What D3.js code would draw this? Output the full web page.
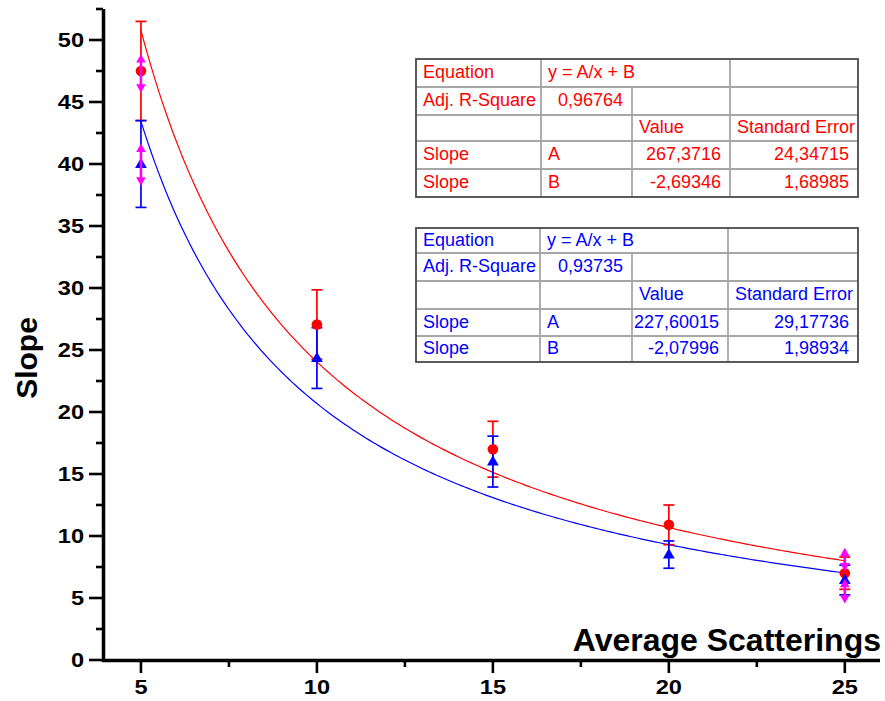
<!DOCTYPE html>
<html>
<head>
<meta charset="utf-8">
<script src="https://cdn.jsdelivr.net/npm/d3@7"></script>
<style>
  html, body { margin: 0; padding: 0; background: #ffffff; }
  svg { display: block; }
</style>
</head>
<body>
<svg id="chart" width="885" height="701"></svg>
<script>
// ---------------- DATA ----------------
const xValues = [5, 10, 15, 20, 25];

const redMean = [47.5, 27.05, 17.0, 10.9, 7.0];
const redErr  = [4.0, 2.8, 2.25, 1.6, 1.3];

const blueMean = [40.0, 24.35, 16.0, 8.5, 6.45];
const blueErr  = [3.5, 2.45, 2.05, 1.1, 1.2];

// magenta markers (up / down triangles joined by a line)
const magentaX    = [5, 5, 25, 25];
const magentaHigh = [48.4, 41.2, 8.6, 6.1];
const magentaLow  = [46.2, 38.7, 7.6, 5.0];

// fit parameters y = A/x + B
const redFit  = { A: 267.3716, B: -2.69346 };
const blueFit = { A: 227.60015, B: -2.07996 };

const yTicks = [0, 5, 10, 15, 20, 25, 30, 35, 40, 45, 50];
const yMinor = [2.5, 7.5, 12.5, 17.5, 22.5, 27.5, 32.5, 37.5, 42.5, 47.5, 52.5];
const xTicks = [5, 10, 15, 20, 25];
const xMinor = [7.5, 12.5, 17.5, 22.5];

const redTable = [
  ["Equation", "y = A/x + B", "", ""],
  ["Adj. R-Square", "0,96764", "", ""],
  ["", "", "Value", "Standard Error"],
  ["Slope", "A", "267,3716", "24,34715"],
  ["Slope", "B", "-2,69346", "1,68985"]
];
const blueTable = [
  ["Equation", "y = A/x + B", "", ""],
  ["Adj. R-Square", "0,93735", "", ""],
  ["", "", "Value", "Standard Error"],
  ["Slope", "A", "227,60015", "29,17736"],
  ["Slope", "B", "-2,07996", "1,98934"]
];

const xTitle = "Average Scatterings";
const yTitle = "Slope";

// ---------------- LAYOUT ----------------
const RED = "#ff0000", BLUE = "#0000ff", MAG = "#ff00ff";
const FONT = "'Liberation Sans', Arial, Helvetica, sans-serif";

const svg = d3.select("#chart");

const x = d3.scaleLinear().domain([3.95, 26]).range([104, 880]);
const y = d3.scaleLinear().domain([0, 52.5]).range([660, 9]);

// ---------- fit curves ----------
const line = d3.line().x(d => x(d[0])).y(d => y(d[1]));
function fitPts(p) {
  return d3.range(5, 25.001, 0.1).map(v => [v, p.A / v + p.B]);
}
svg.append("path").attr("d", line(fitPts(redFit)))
  .attr("fill", "none").attr("stroke", RED).attr("stroke-width", 1.2);
svg.append("path").attr("d", line(fitPts(blueFit)))
  .attr("fill", "none").attr("stroke", BLUE).attr("stroke-width", 1.2);

// ---------- error bars and markers ----------
function errorBars(means, errs, color) {
  const g = svg.append("g").attr("stroke", color).attr("stroke-width", 1.7);
  xValues.forEach((xv, i) => {
    const cx = x(xv), top = y(means[i] + errs[i]), bot = y(means[i] - errs[i]);
    g.append("line").attr("x1", cx).attr("x2", cx).attr("y1", top).attr("y2", bot);
    g.append("line").attr("x1", cx - 5.5).attr("x2", cx + 5.5).attr("y1", top).attr("y2", top);
    g.append("line").attr("x1", cx - 5.5).attr("x2", cx + 5.5).attr("y1", bot).attr("y2", bot);
  });
}
errorBars(redMean, redErr, RED);
errorBars(blueMean, blueErr, BLUE);

svg.append("g").selectAll("circle").data(xValues).join("circle")
  .attr("cx", d => x(d)).attr("cy", (d, i) => y(redMean[i])).attr("r", 5.3)
  .attr("fill", RED);

const tri = d3.symbol().type(d3.symbolTriangle).size(60);
svg.append("g").selectAll("path").data(xValues).join("path")
  .attr("d", tri)
  .attr("transform", (d, i) => `translate(${x(d)},${y(blueMean[i]) + 0.5})`)
  .attr("fill", BLUE);

// magenta
const mg = svg.append("g");
const smallTri = d3.symbol().type(d3.symbolTriangle).size(40);
magentaX.forEach((xv, i) => {
  mg.append("line").attr("x1", x(xv)).attr("x2", x(xv))
    .attr("y1", y(magentaHigh[i])).attr("y2", y(magentaLow[i]))
    .attr("stroke", MAG).attr("stroke-width", 2.6);
  mg.append("path").attr("d", smallTri).attr("fill", MAG)
    .attr("transform", `translate(${x(xv)},${y(magentaHigh[i])})`);
  mg.append("path").attr("d", smallTri).attr("fill", MAG)
    .attr("transform", `translate(${x(xv)},${y(magentaLow[i])}) rotate(180)`);
});

// ---------- axes ----------
const ax = svg.append("g").attr("stroke", "#000");
ax.append("line").attr("x1", 103.5).attr("x2", 103.5).attr("y1", 662).attr("y2", y(52.5))
  .attr("stroke-width", 3.5);
ax.append("line").attr("x1", 102).attr("x2", 880).attr("y1", 660.5).attr("y2", 660.5)
  .attr("stroke-width", 3.5);

yTicks.forEach(v => {
  ax.append("line").attr("x1", 89).attr("x2", 103).attr("y1", y(v)).attr("y2", y(v))
    .attr("stroke-width", 2.6);
});
yMinor.forEach(v => {
  ax.append("line").attr("x1", 96).attr("x2", 103).attr("y1", y(v)).attr("y2", y(v))
    .attr("stroke-width", 2.6);
});
xTicks.forEach(v => {
  ax.append("line").attr("x1", x(v)).attr("x2", x(v)).attr("y1", 661).attr("y2", 673)
    .attr("stroke-width", 2.6);
});
xMinor.forEach(v => {
  ax.append("line").attr("x1", x(v)).attr("x2", x(v)).attr("y1", 661).attr("y2", 667)
    .attr("stroke-width", 2.6);
});

const lab = svg.append("g").attr("font-family", FONT).attr("font-weight", "bold")
  .attr("font-size", 20.5).attr("fill", "#000");
yTicks.forEach(v => {
  lab.append("text").attr("text-anchor", "end")
    .attr("transform", `translate(84,${y(v) + 6.8}) scale(1.15,1)`)
    .text(v);
});
xTicks.forEach(v => {
  lab.append("text").attr("text-anchor", "middle")
    .attr("transform", `translate(${x(v)},694) scale(1.15,1)`)
    .text(v);
});

svg.append("text").attr("font-family", FONT).attr("font-weight", "bold")
  .attr("font-size", 32).attr("text-anchor", "end")
  .attr("x", 881).attr("y", 651).text(xTitle);
svg.append("text").attr("font-family", FONT).attr("font-weight", "bold")
  .attr("font-size", 30).attr("text-anchor", "middle")
  .attr("transform", "translate(37,358) rotate(-90)").text(yTitle);

// ---------- tables ----------
function drawTable(rows, cols, rowYs, color) {
  const g = svg.append("g");
  const L = cols[0], R = cols[cols.length - 1], T = rowYs[0], B = rowYs[rowYs.length - 1];
  const inner = g.append("g").attr("stroke", "#a6a6a6").attr("stroke-width", 1.8);
  for (let r = 1; r < rowYs.length - 1; r++) {
    inner.append("line").attr("x1", L).attr("x2", R).attr("y1", rowYs[r]).attr("y2", rowYs[r]);
  }
  inner.append("line").attr("x1", cols[1]).attr("x2", cols[1]).attr("y1", T).attr("y2", B);
  inner.append("line").attr("x1", cols[2]).attr("x2", cols[2]).attr("y1", rowYs[1]).attr("y2", B);
  inner.append("line").attr("x1", cols[3]).attr("x2", cols[3]).attr("y1", T).attr("y2", B);
  g.append("rect").attr("x", L).attr("y", T).attr("width", R - L).attr("height", B - T)
    .attr("fill", "none").attr("stroke", "#4a4a4a").attr("stroke-width", 1.8);

  const tg = g.append("g").attr("font-family", FONT).attr("font-size", 18).attr("fill", color);
  const num = /^-?[\d,]+$/;
  rows.forEach((row, r) => {
    const yb = (rowYs[r] + rowYs[r + 1]) / 2 + 5;
    row.forEach((txt, c) => {
      if (!txt) return;
      const right = num.test(txt);
      tg.append("text")
        .attr("x", right ? cols[c + 1] - 9 : cols[c] + 7)
        .attr("y", yb)
        .attr("text-anchor", right ? "end" : "start")
        .text(txt);
    });
  });
}
drawTable(redTable, [416, 541, 632, 730, 858], [59, 87, 115, 141, 169, 197], RED);
drawTable(blueTable, [416, 540, 632, 728, 858], [228, 253, 281, 309, 336, 362], BLUE);
</script>
</body>
</html>
